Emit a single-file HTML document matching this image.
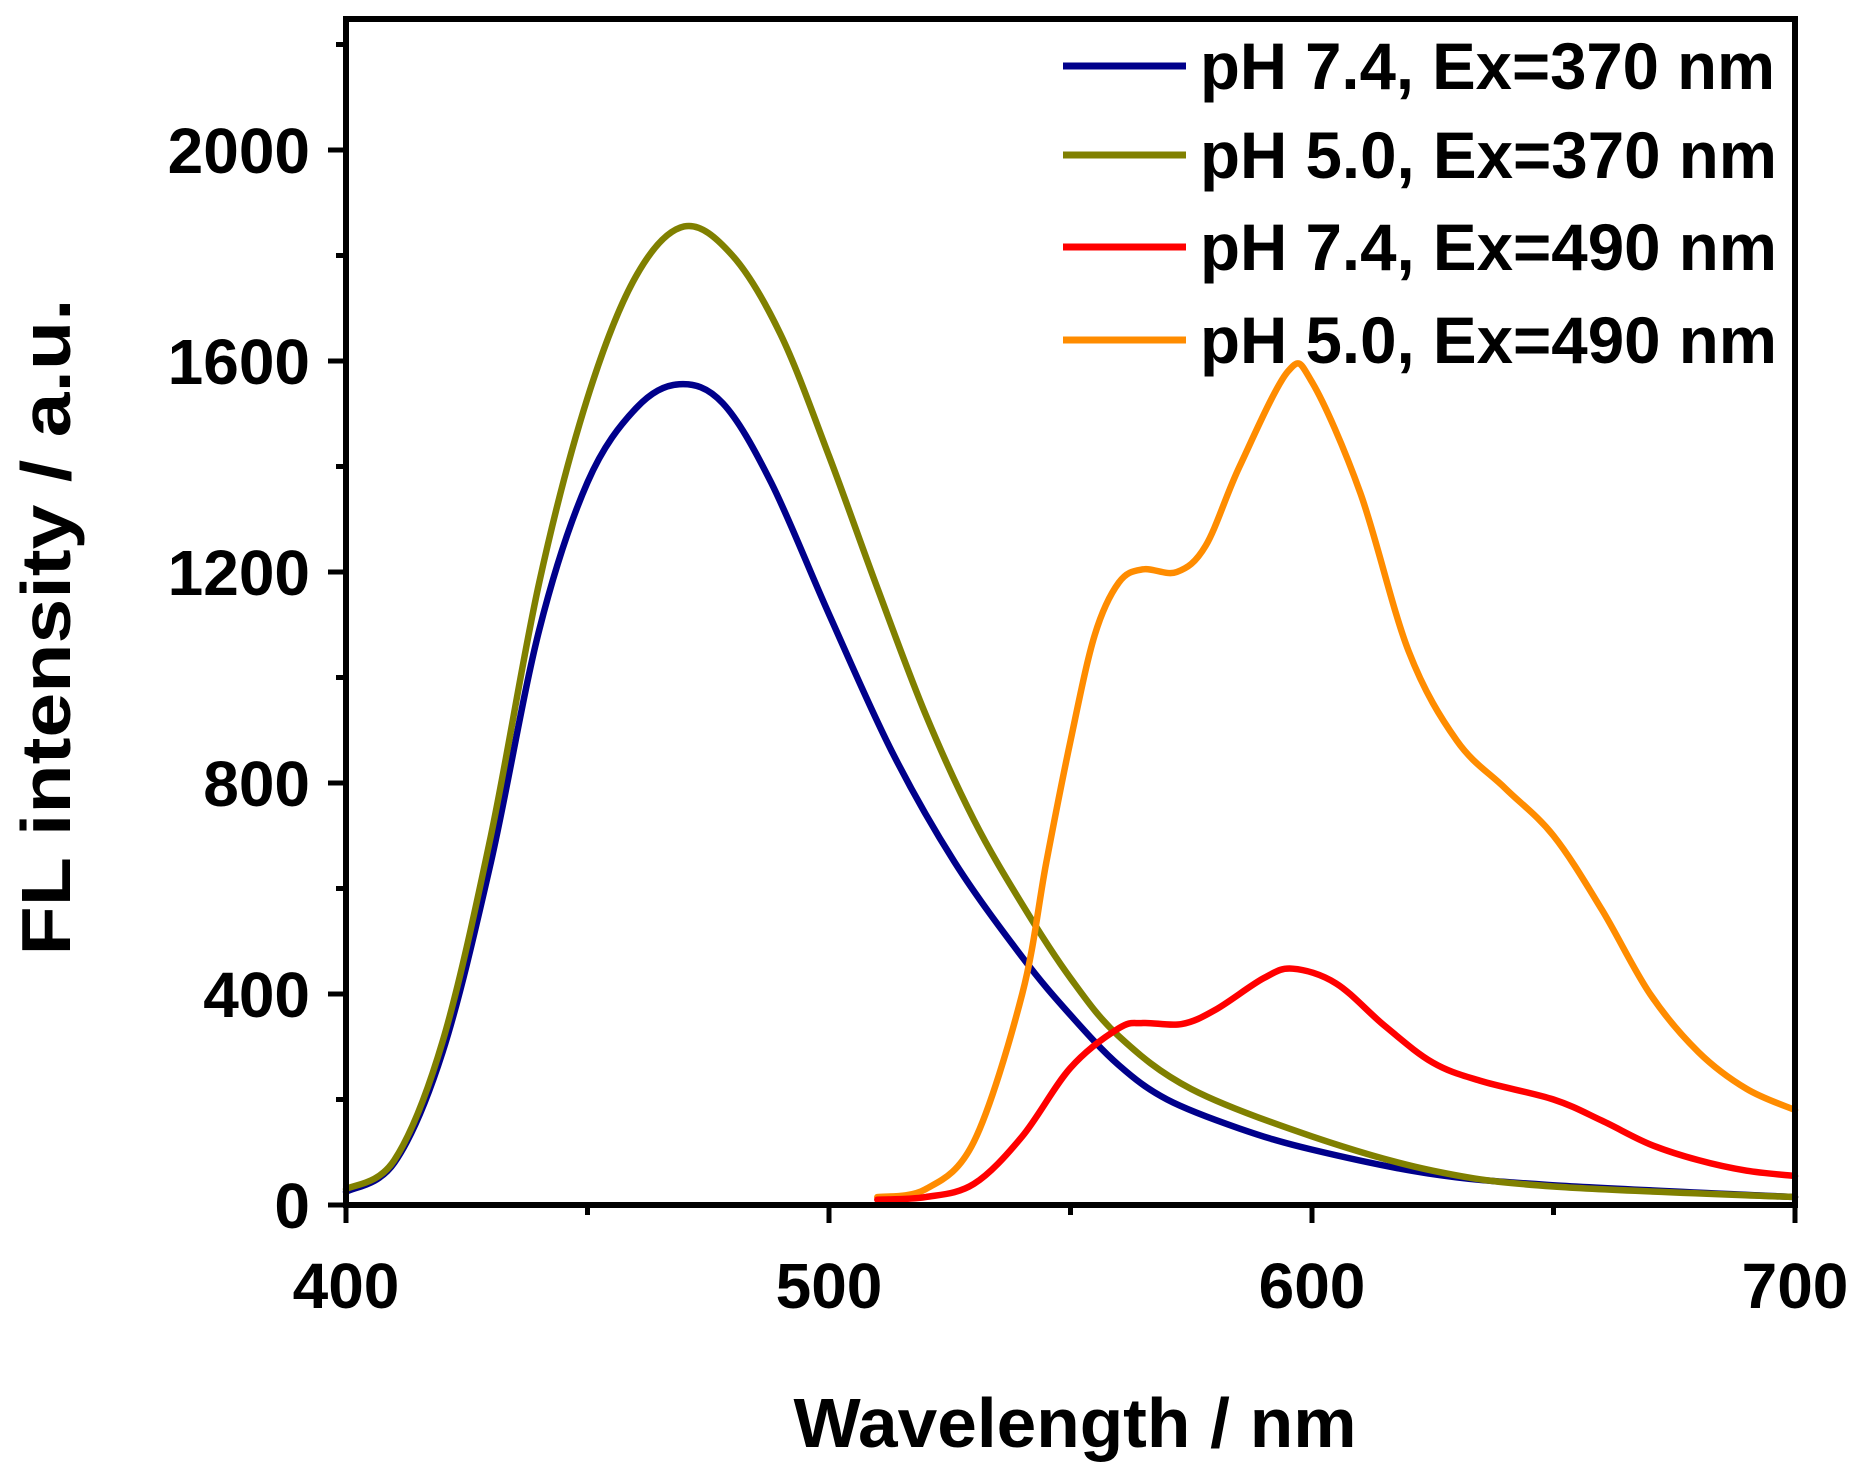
<!DOCTYPE html>
<html><head><meta charset="utf-8"><style>
html,body{margin:0;padding:0;background:#fff;}
svg{display:block;}
text{font-family:"Liberation Sans",Arial,sans-serif;font-weight:bold;fill:#000;}
</style></head><body>
<svg id="s" width="1866" height="1473" viewBox="0 0 1866 1473" xmlns="http://www.w3.org/2000/svg">
<g id="curves" fill="none" stroke-width="6.5" stroke-linejoin="round" stroke-linecap="round"></g>
<rect x="346" y="19" width="1449" height="1186" fill="none" stroke="#000" stroke-width="6"/>
<g id="ticks" stroke="#000" stroke-width="5"></g>
<g font-size="64">
<text x="310" y="1228" text-anchor="end">0</text>
<text x="310" y="1017" text-anchor="end">400</text>
<text x="310" y="806" text-anchor="end">800</text>
<text x="310" y="595" text-anchor="end">1200</text>
<text x="310" y="384" text-anchor="end">1600</text>
<text x="310" y="173" text-anchor="end">2000</text>
<text x="346" y="1308" text-anchor="middle">400</text>
<text x="829" y="1308" text-anchor="middle">500</text>
<text x="1312" y="1308" text-anchor="middle">600</text>
<text x="1795" y="1308" text-anchor="middle">700</text>
</g>
<text x="1075" y="1447" font-size="70" text-anchor="middle" textLength="563" lengthAdjust="spacingAndGlyphs">Wavelength / nm</text>
<text transform="translate(70,627) rotate(-90)" font-size="70" text-anchor="middle" textLength="657" lengthAdjust="spacingAndGlyphs">FL intensity / a.u.</text>
<g stroke-width="7">
<line x1="1063" y1="66" x2="1186" y2="66" stroke="#00008b"/>
<line x1="1063" y1="155" x2="1186" y2="155" stroke="#808000"/>
<line x1="1063" y1="247" x2="1186" y2="247" stroke="#ff0000"/>
<line x1="1063" y1="340" x2="1186" y2="340" stroke="#ff8c00"/>
</g>
<g font-size="66">
<text x="1200" y="89" textLength="575" lengthAdjust="spacingAndGlyphs">pH 7.4, Ex=370 nm</text>
<text x="1200" y="178" textLength="577" lengthAdjust="spacingAndGlyphs">pH 5.0, Ex=370 nm</text>
<text x="1200" y="270" textLength="577" lengthAdjust="spacingAndGlyphs">pH 7.4, Ex=490 nm</text>
<text x="1200" y="363" textLength="577" lengthAdjust="spacingAndGlyphs">pH 5.0, Ex=490 nm</text>
</g>
</svg>
<script>
var X=function(n){return 346+(n-400)*1449/300;};
var Y=function(v){return 1205-v*0.5275;};
var ns="http://www.w3.org/2000/svg";
function path(pts,color){
 var p=pts.map(function(a){return [X(a[0]),Y(a[1])];});
 var d="M"+p[0][0]+","+p[0][1];
 for(var i=0;i<p.length-1;i++){
  var p0=p[i-1]||p[i],p1=p[i],p2=p[i+1],p3=p[i+2]||p2;
  var c1=[p1[0]+(p2[0]-p0[0])/6,p1[1]+(p2[1]-p0[1])/6];
  var c2=[p2[0]-(p3[0]-p1[0])/6,p2[1]-(p3[1]-p1[1])/6];
  d+=" C"+c1+" "+c2+" "+p2;
 }
 var e=document.createElementNS(ns,"path");e.setAttribute("d",d);e.setAttribute("stroke",color);
 document.getElementById("curves").appendChild(e);
}
path([[400,25],[410,80],[420,290],[430,650],[440,1090],[450,1370],[460,1510],[469,1556],[478,1520],[488,1370],[500,1120],[513,860],[526,650],[540,470],[550,360],[560,265],[570,200],[585,145],[600,105],[624,60],[649,38],[700,15]],"#00008b");
path([[400,30],[410,85],[420,310],[430,700],[440,1180],[450,1530],[460,1760],[470,1855],[480,1800],[490,1650],[500,1420],[510,1170],[520,930],[530,730],[540,570],[550,430],[560,320],[575,220],[600,130],[625,65],[650,35],[700,15]],"#808000");
path([[510,15],[520,30],[530,120],[540,400],[545,650],[550,880],[555,1080],[560,1180],[565,1205],[572,1200],[578,1250],[585,1400],[595,1580],[600,1560],[610,1350],[620,1050],[630,880],[640,790],[650,700],[660,560],[670,400],[680,290],[690,220],[700,180]],"#ff8c00");
path([[510,10],[520,15],[530,40],[540,130],[550,260],[560,335],[565,345],[573,343],[580,370],[590,430],[596,448],[605,420],[615,340],[625,270],[635,235],[650,200],[660,160],[670,115],[680,85],[690,65],[700,55]],"#ff0000");
var t=document.getElementById("ticks"),s="";
for(var v=0;v<=2200;v+=200){var y=Y(v),L=(v%400==0)?18:10;s+='<line x1="'+(346-L)+'" y1="'+y+'" x2="346" y2="'+y+'"/>';}
for(var n=400;n<=700;n+=50){var x=X(n),L=(n%100==0)?18:10;s+='<line x1="'+x+'" y1="1205" x2="'+x+'" y2="'+(1205+L)+'"/>';}
t.innerHTML=s;
</script>
</body></html>
